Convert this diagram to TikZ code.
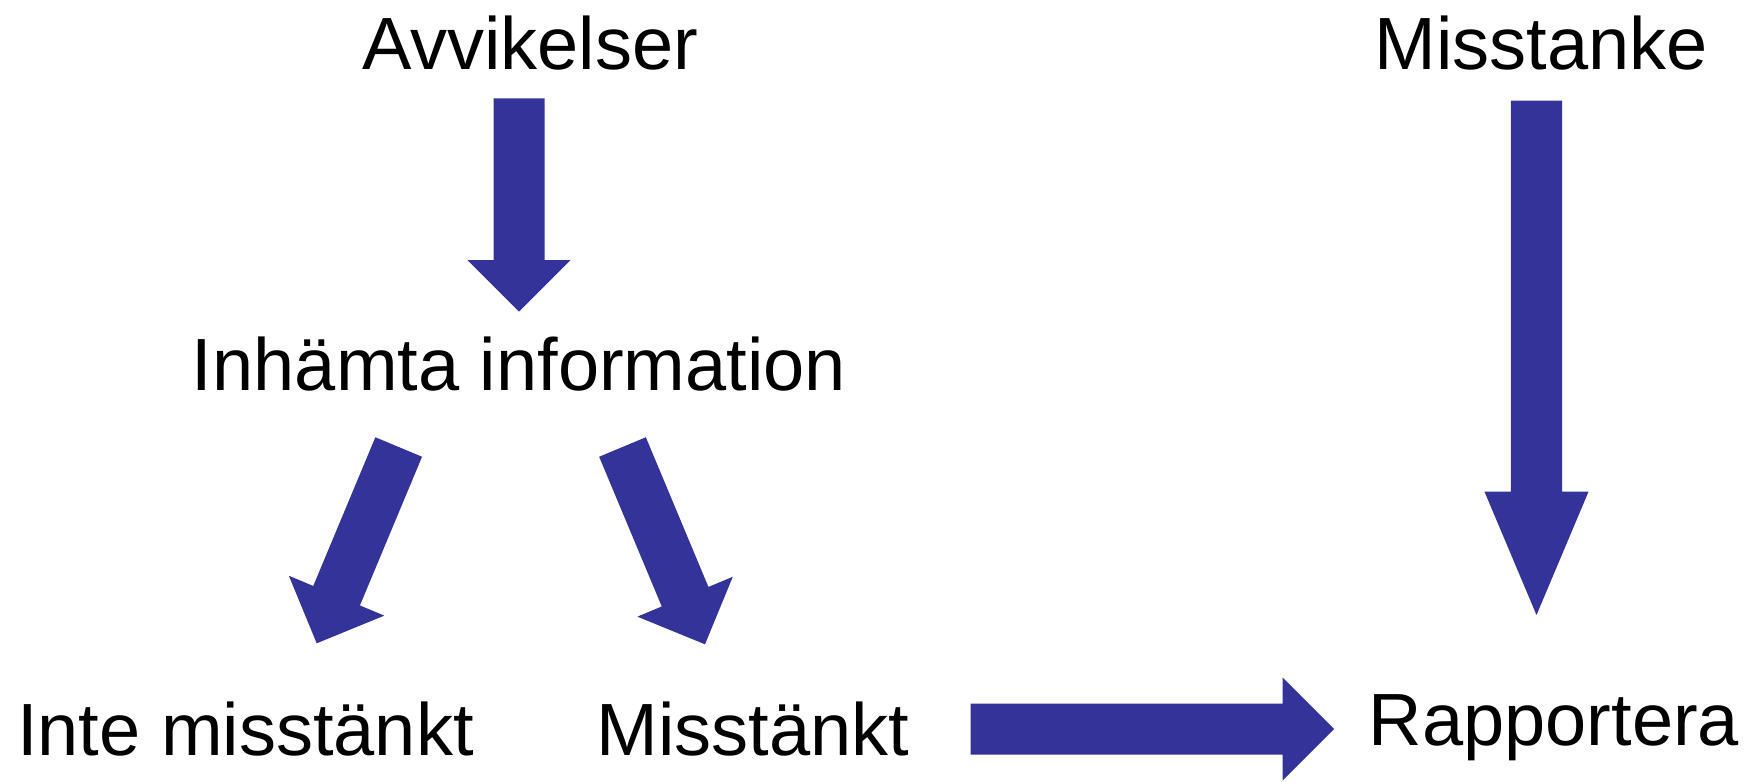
\documentclass[tikz,border=0pt]{standalone}
\usepackage{fontspec}
\setmainfont{Liberation Sans}
\usetikzlibrary{calc}
\definecolor{arrowblue}{RGB}{51,51,153}
\tikzset{
  lbl/.style={anchor=base, inner sep=0pt, font=\fontsize{74}{74}\selectfont},
  arrowfill/.style={fill=arrowblue, draw=none}
}
\newcommand\blockarrow[5]{%
  \coordinate (hb) at ($(#2)!#5!(#1)$);
  \fill[arrowfill] ($(#1)!#3!90:(#2)$) -- ($(hb)!#3!90:(#2)$) -- ($(hb)!#4!90:(#2)$) -- (#2)
    -- ($(hb)!#4!-90:(#2)$) -- ($(hb)!#3!-90:(#2)$) -- ($(#1)!#3!-90:(#2)$) -- cycle;
}
\begin{document}
\begin{tikzpicture}[x=1pt,y=-1pt]
\useasboundingbox (0,0) rectangle (1749,782);
% labels
\node[lbl] (avv) at (530,69) {Avvikelser};
\node[lbl] (mis) at (1541,69) {Misstanke};
\node[lbl] (inh) at (519,390) {Inhämta information};
\node[lbl] (inte) at (245.4,755) {Inte misstänkt};
\node[lbl] (mkt) at (753,755) {Misstänkt};
\node[lbl] (rap) at (1554,745) {Rapportera};
% arrow endpoints
\coordinate (a1s) at (519,98.3);   \coordinate (a1e) at (519,311.7);
\coordinate (a2s) at (1536.5,100.7); \coordinate (a2e) at (1536.5,615);
\coordinate (a3s) at (398.7,447);  \coordinate (a3e) at (316.7,643.3);
\coordinate (a4s) at (622.5,447);  \coordinate (a4e) at (705,644.3);
\coordinate (a5s) at (970.7,729);  \coordinate (a5e) at (1334,729);
% arrows
\blockarrow{a1s}{a1e}{25.5pt}{51.4pt}{51.6pt}
\blockarrow{a2s}{a2e}{25.7pt}{52pt}{123.3pt}
\blockarrow{a3s}{a3e}{25.3pt}{51.7pt}{51.6pt}
\blockarrow{a4s}{a4e}{25.3pt}{51.7pt}{51.6pt}
\blockarrow{a5s}{a5e}{25.5pt}{51.4pt}{51.3pt}
\end{tikzpicture}
\end{document}
